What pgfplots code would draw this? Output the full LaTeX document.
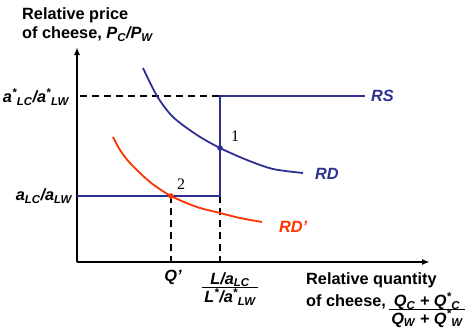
\documentclass[border=0pt]{standalone}
\usepackage{pgfplots}
\pgfplotsset{compat=1.18}
\usepackage{fontspec}
\setmainfont{Liberation Sans}
\newfontfamily\seriffont{Liberation Serif}
\usetikzlibrary{arrows.meta}
\definecolor{rsblue}{RGB}{46,49,146}
\definecolor{rdred}{RGB}{255,51,0}
\newcommand{\lab}{\fontsize{16.3}{18}\selectfont\bfseries}
\begin{document}
\begin{tikzpicture}
\path[use as bounding box] (0,0) rectangle (474pt,333pt);
\begin{axis}[x=1pt,y=1pt,xmin=0,xmax=474,ymin=0,ymax=333,hide axis,clip=false,
  at={(0,0)},anchor=south west]
% axes
\addplot[black,line width=1.8pt,-{Latex[length=8pt,width=6pt]}] coordinates {(77,71) (430,71)};
\addplot[black,line width=1.8pt,-{Latex[length=8pt,width=6pt]}] coordinates {(77,71) (77,286)};
% dashed guides
\addplot[black,line width=1.3pt,dash pattern=on 7pt off 5pt] coordinates {(80,237) (220,237)};
\addplot[black,line width=1.3pt,dash pattern=on 7pt off 5pt] coordinates {(220,137) (220,71)};
\addplot[black,line width=1.3pt,dash pattern=on 7pt off 5pt] coordinates {(171,137) (171,71)};
% RS
\addplot[rsblue,line width=1.6pt] coordinates {(77,137) (220,137) (220,237) (365,237)};
% RD
\addplot[rsblue,line width=1.8pt,smooth] coordinates {(143,265) (157,237) (173,216) (197,198) (220,185) (247,173) (273,164) (303,160)};
% RD'
\addplot[rdred,line width=1.8pt,smooth] coordinates {(113,196) (120,183) (130,170) (150,151) (171,137) (197,126) (220,120) (240,115) (262,111)};
% points
\addplot[rsblue,only marks,mark=*,mark size=2.5pt] coordinates {(220,185)};
\addplot[rdred,only marks,mark=*,mark size=2.5pt] coordinates {(171,137)};
% labels
\node[anchor=west,inner sep=0pt] at (axis cs:22,318) {\lab Relative price};
\node[anchor=west,inner sep=0pt] at (axis cs:22,299) {\lab of cheese, \textit{P\textsubscript{C}/P\textsubscript{W}}};
\node[anchor=east,inner sep=0pt] at (axis cs:69,236) {\lab\itshape a\textsuperscript{*}\textsubscript{LC}/a\textsuperscript{*}\textsubscript{LW}};
\node[anchor=east,inner sep=0pt] at (axis cs:72,137) {\lab\itshape a\textsubscript{LC}/a\textsubscript{LW}};
\node[anchor=west,inner sep=0pt,text=rsblue] at (axis cs:371,237) {\lab\itshape RS};
\node[anchor=west,inner sep=0pt,text=rsblue] at (axis cs:315,159) {\lab\itshape RD};
\node[anchor=west,inner sep=0pt,text=rdred] at (axis cs:279,106) {\lab\itshape RD'};
\node[inner sep=0pt] at (axis cs:235,197) {\seriffont\fontsize{16}{18}\selectfont 1};
\node[inner sep=0pt] at (axis cs:181,149) {\seriffont\fontsize{16}{18}\selectfont 2};
\node[inner sep=0pt] at (axis cs:173,56) {\lab\itshape Q'};
\node[inner sep=0pt] at (axis cs:230,43) {\lab\itshape\setlength{\arrayrulewidth}{1.2pt}\begin{tabular}{@{\,}c@{\,}}L/a\textsubscript{LC}\\[-3pt]\hline \rule{0pt}{15pt}L\textsuperscript{*}/a\textsuperscript{*}\textsubscript{LW}\end{tabular}};
\node[anchor=west,inner sep=0pt] at (axis cs:306,53) {\lab Relative quantity};
\node[anchor=west,inner sep=0pt] at (axis cs:306,31) {\lab of cheese,};
\node[inner sep=0pt] at (axis cs:427,22) {\lab\itshape\setlength{\arrayrulewidth}{1.2pt}\begin{tabular}{@{\,}c@{\,}}Q\textsubscript{C} + Q\textsuperscript{*}\textsubscript{C}\\[-3pt]\hline Q\textsubscript{W} + Q\textsuperscript{*}\textsubscript{W}\end{tabular}};
\end{axis}
\end{tikzpicture}
\end{document}
